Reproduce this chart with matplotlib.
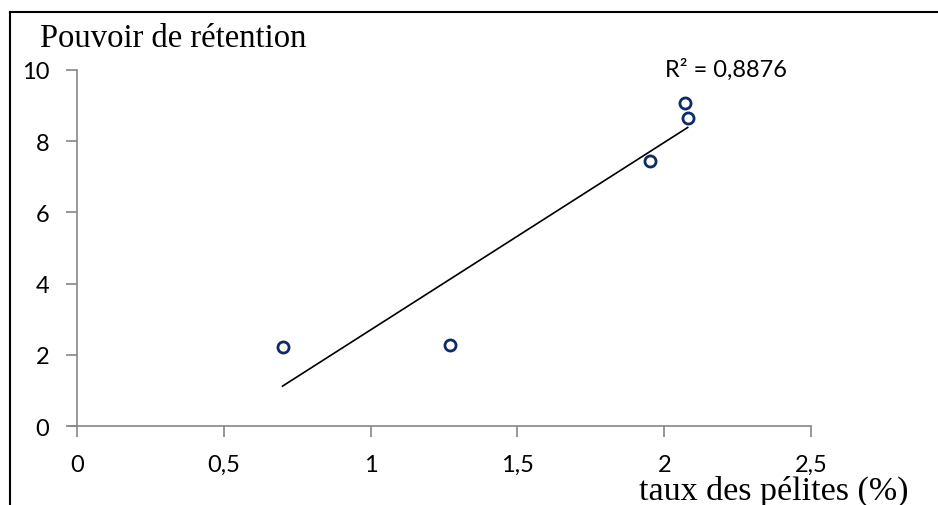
import numpy as np
import matplotlib.pyplot as plt
from matplotlib.lines import Line2D
from matplotlib.ticker import FuncFormatter

# taux des pélites (%) et pouvoir de rétention mesurés
taux_pelites = [0.70, 1.27, 1.95, 2.07, 2.08]
pouvoir_retention = [2.22, 2.28, 7.44, 9.07, 8.65]
r2_label = "R² = 0,8876"

x_ticks = [0, 0.5, 1, 1.5, 2, 2.5]
y_ticks = [0, 2, 4, 6, 8, 10]

axis_grey = "#868686"
marker_blue = "#0D2A6B"
tick_font = "Lato"
serif_font = "Liberation Serif"

fig = plt.figure(figsize=(9.38, 5.06), dpi=100)
ax = fig.add_axes([0.0821, 0.1561, 0.7825, 0.7036])

# nuage de points
ax.plot(taux_pelites, pouvoir_retention, linestyle="none", marker="o",
        markersize=8, markerfacecolor="none", markeredgecolor=marker_blue,
        markeredgewidth=2.0, zorder=3)

# droite de tendance linéaire sur l'étendue des données
slope, intercept = np.polyfit(taux_pelites, pouvoir_retention, 1)
xs = np.array([min(taux_pelites), max(taux_pelites)])
ax.plot(xs, slope * xs + intercept, color="black", lw=1.2, zorder=2)

ax.set_xlim(0, 2.5)
ax.set_ylim(0, 10)
ax.set_xticks(x_ticks)
ax.set_yticks(y_ticks)

fmt = FuncFormatter(lambda v, _: f"{v:g}".replace(".", ","))
ax.xaxis.set_major_formatter(fmt)
ax.yaxis.set_major_formatter(fmt)

for side in ("top", "right"):
    ax.spines[side].set_visible(False)
for side in ("left", "bottom"):
    ax.spines[side].set_color(axis_grey)
    ax.spines[side].set_linewidth(1.2)

ax.tick_params(axis="both", direction="out", length=8, width=1.2,
               color=axis_grey, labelsize=17, pad=12)
ax.tick_params(axis="y", pad=12)
for lab in ax.get_xticklabels() + ax.get_yticklabels():
    lab.set_fontfamily(tick_font)

# prolongement de l'axe des x jusqu'au repère de gauche
ax.plot([-0.027, 0], [0, 0], color=axis_grey, lw=1.2, clip_on=False)

ax.text(2.21, 10.03, r2_label, fontsize=17, family=tick_font,
        ha="center", va="center")

fig.text(40 / 938, 1 - 47 / 506, "Pouvoir de rétention", fontsize=23.5,
         family=serif_font, ha="left", va="baseline")
fig.text(908 / 938, 1 - 500 / 506, "taux des pélites (%)", fontsize=24.5,
         family=serif_font, ha="right", va="baseline")

# cadre du graphique (bords gauche et haut)
fig.add_artist(Line2D([10 / 938, 10 / 938], [0, 1 - 13 / 506],
                      transform=fig.transFigure, color="black", lw=1.5))
fig.add_artist(Line2D([10 / 938, 1], [1 - 13 / 506, 1 - 13 / 506],
                      transform=fig.transFigure, color="black", lw=1.5))

fig.savefig("out.png", dpi=100)
